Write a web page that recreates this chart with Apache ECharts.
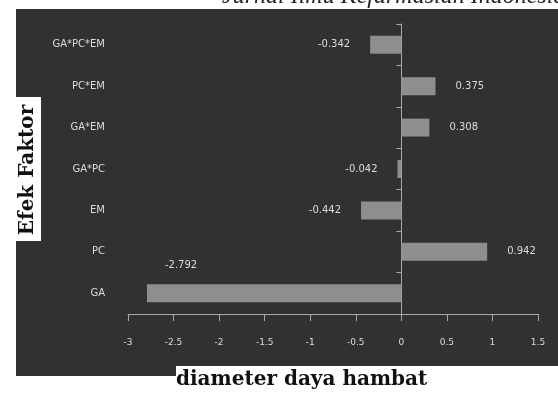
<!DOCTYPE html>
<html>
<head>
<meta charset="utf-8">
<script src="https://cdn.jsdelivr.net/npm/echarts@6/dist/echarts.min.js"></script>
<style>
  html, body { margin: 0; padding: 0; background: #ffffff; }
  #chart { width: 558px; height: 393px; }
</style>
</head>
<body>
<div id="chart"></div>
<script>
// Factor effects on inhibition-zone diameter (bottom to top)
const factors = ['GA', 'PC', 'EM', 'GA*PC', 'GA*EM', 'PC*EM', 'GA*PC*EM'];
const effects = [-2.792, 0.942, -0.442, -0.042, 0.308, 0.375, -0.342];
const effectLabels = ['-2.792', '0.942', '-0.442', '-0.042', '0.308', '0.375', '-0.342'];

// x-axis ticks
const xTickValues = [-3, -2.5, -2, -1.5, -1, -0.5, 0, 0.5, 1, 1.5];
const xTickLabels = ['-3', '-2.5', '-2', '-1.5', '-1', '-0.5', '0', '0.5', '1', '1.5'];

const panelColor = '#323031';
const barColor = '#8e8e8e';
const textColor = '#dcdcdc';
const axisColor = '#a8a8a8';

const chart = echarts.init(document.getElementById('chart'), null, { renderer: 'canvas' });

const barData = effects.map(function (v, i) {
  const item = { value: v };
  if (factors[i] === 'GA') {
    item.label = { position: [18, -24] };
  } else {
    item.label = { position: v < 0 ? 'left' : 'right' };
  }
  return item;
});

chart.setOption({
  backgroundColor: '#ffffff',
  animation: false,
  grid: { left: 128, right: 20, top: 24, bottom: 79, containLabel: false, outerBoundsMode: 'none' },
  xAxis: {
    type: 'value',
    min: xTickValues[0],
    max: xTickValues[xTickValues.length - 1],
    interval: 0.5,
    axisLine: { show: true, lineStyle: { color: axisColor, width: 1 } },
    axisTick: { show: true, length: 7, lineStyle: { color: axisColor } },
    splitLine: { show: false },
    axisLabel: {
      margin: 24,
      color: textColor,
      fontFamily: 'DejaVu Sans',
      fontSize: 9,
      formatter: function (v) {
        const idx = xTickValues.findIndex(function (t) { return Math.abs(t - v) < 1e-9; });
        return idx >= 0 ? xTickLabels[idx] : '';
      }
    }
  },
  yAxis: {
    type: 'category',
    data: factors,
    axisLine: { show: true, onZero: true, lineStyle: { color: axisColor, width: 1 } },
    axisTick: { show: true, length: 5, lineStyle: { color: axisColor } },
    axisLabel: {
      margin: 23,
      color: textColor,
      fontFamily: 'DejaVu Sans',
      fontSize: 10
    }
  },
  series: [{
    type: 'bar',
    data: barData,
    barWidth: 18,
    itemStyle: { color: barColor },
    label: {
      show: true,
      distance: 20,
      color: textColor,
      fontFamily: 'DejaVu Sans',
      fontSize: 10,
      formatter: function (p) { return effectLabels[p.dataIndex]; }
    }
  }],
  graphic: [
    { type: 'rect', z: -10, silent: true,
      shape: { x: 16, y: 9, width: 542, height: 367 },
      style: { fill: panelColor } },
    { type: 'rect', z: 100, silent: true,
      shape: { x: 176, y: 366, width: 382, height: 27 },
      style: { fill: '#ffffff' } },
    { type: 'text', z: 101, silent: true, x: 176, y: 380,
      style: { text: 'diameter daya hambat', fill: '#111111',
        font: 'bold 20px "DejaVu Serif"', align: 'left', verticalAlign: 'middle' } },
    { type: 'rect', z: 100, silent: true,
      shape: { x: 16, y: 97, width: 25, height: 144 },
      style: { fill: '#ffffff' } },
    { type: 'text', z: 101, silent: true, x: 28, y: 170, rotation: Math.PI / 2,
      style: { text: 'Efek Faktor', fill: '#111111',
        font: 'bold 20px "DejaVu Serif"', align: 'center', verticalAlign: 'middle' } },
    { type: 'text', z: 101, silent: true, x: 222, y: -3,
      style: { text: 'Jurnal Ilmu Kefarmasian Indonesia', fill: '#222222',
        font: 'italic 24px "Liberation Serif"', align: 'left', verticalAlign: 'middle' } }
  ]
});
</script>
</body>
</html>
